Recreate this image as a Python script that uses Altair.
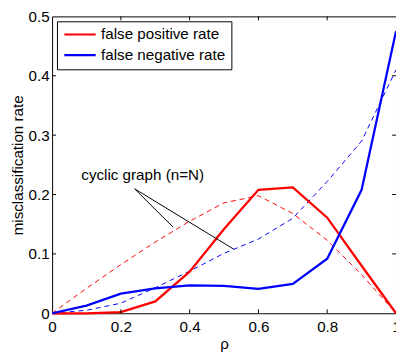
import altair as alt
import pandas as pd

# ---- data ----
rho = [0.0, 0.1, 0.2, 0.3, 0.4, 0.5, 0.6, 0.7, 0.8, 0.9, 1.0]
fp_rate = [0.0, 0.0, 0.002, 0.02, 0.07, 0.142, 0.208, 0.212, 0.161, 0.08, 0.0]
fn_rate = [0.0, 0.013, 0.033, 0.042, 0.047, 0.046, 0.041, 0.0495, 0.092, 0.208, 0.475]
fp_cyclic = [0.0, 0.042, 0.082, 0.12, 0.155, 0.186, 0.198, 0.168, 0.123, 0.065, 0.0]
fn_cyclic = [0.0, 0.005, 0.017, 0.043, 0.071, 0.101, 0.125, 0.16, 0.222, 0.29, 0.41]

series_names = ["false positive rate", "false negative rate"]
series_colors = ["#ff0000", "#0000ff"]

x_ticks = [0.0, 0.2, 0.4, 0.6, 0.8, 1.0]
y_ticks = [0.0, 0.1, 0.2, 0.3, 0.4, 0.5]
inner_x_ticks = [0.2, 0.4, 0.6, 0.8]
inner_y_ticks = [0.1, 0.2, 0.3, 0.4]

annot_text = ["cyclic graph (n=N)"]
annot_text_x = [0.085]
annot_text_y = [0.233]
annot_from_x = [0.24, 0.24]
annot_from_y = [0.2096, 0.2096]
annot_to_x = [0.352, 0.528]
annot_to_y = [0.145, 0.108]

FONT = "Liberation Sans"
FS = 15.5
W, H = 351, 303

solid_df = pd.DataFrame({
    "rho": rho * 2,
    "value": fp_rate + fn_rate,
    "series": [series_names[0]] * len(rho) + [series_names[1]] * len(rho),
})
dashed_df = pd.DataFrame({
    "rho": rho * 2,
    "value": fp_cyclic + fn_cyclic,
    "series": [series_names[0]] * len(rho) + [series_names[1]] * len(rho),
})

xscale = alt.Scale(domain=[0, 1], nice=False, zero=False)
yscale = alt.Scale(domain=[0, 0.5], nice=False)

xaxis = alt.Axis(values=x_ticks, format="~g", tickSize=0, domain=False, grid=False,
                 labelFont=FONT, labelFontSize=FS, labelColor="black", labelPadding=7,
                 labelFlush=False, labelOverlap=False,
                 title="ρ", titleFont=FONT, titleFontSize=FS, titleFontWeight="normal",
                 titleColor="black", titlePadding=1)
yaxis = alt.Axis(values=y_ticks, format="~g", tickSize=0, domain=False, grid=False,
                 labelFont=FONT, labelFontSize=FS, labelColor="black", labelPadding=3,
                 labelFlush=False, labelOverlap=False,
                 title="misclassification rate", titleFont=FONT, titleFontSize=FS,
                 titleFontWeight="normal", titleColor="black", titlePadding=3)

legend = alt.Legend(title=None, orient="none", legendX=5, legendY=5,
                    symbolType="stroke", symbolSize=1024, symbolStrokeWidth=2.2,
                    clipHeight=15, rowPadding=5, padding=6,
                    labelFont=FONT, labelFontSize=FS, labelColor="black", labelOffset=4,
                    strokeColor="black", fillColor="white")

solid = alt.Chart(solid_df).mark_line(strokeWidth=2.3).encode(
    x=alt.X("rho:Q", scale=xscale, axis=xaxis),
    y=alt.Y("value:Q", scale=yscale, axis=yaxis),
    color=alt.Color("series:N", scale=alt.Scale(domain=series_names, range=series_colors),
                    legend=legend, sort=series_names),
)

dashed = alt.Chart(dashed_df).mark_line(strokeWidth=1, strokeDash=[5, 4]).encode(
    x=alt.X("rho:Q", scale=xscale),
    y=alt.Y("value:Q", scale=yscale),
    color=alt.Color("series:N", scale=alt.Scale(domain=series_names, range=series_colors),
                    legend=None),
)

annot_lines = alt.Chart(pd.DataFrame({
    "x": annot_from_x, "y": annot_from_y, "x2": annot_to_x, "y2": annot_to_y,
})).mark_rule(color="black", strokeWidth=1).encode(
    x=alt.X("x:Q", scale=xscale), y=alt.Y("y:Q", scale=yscale), x2="x2:Q", y2="y2:Q",
)

annot_label = alt.Chart(pd.DataFrame({
    "x": annot_text_x, "y": annot_text_y, "t": annot_text,
})).mark_text(align="left", baseline="middle", font=FONT, fontSize=FS, color="black").encode(
    x=alt.X("x:Q", scale=xscale), y=alt.Y("y:Q", scale=yscale), text="t:N",
)

xt_df = pd.DataFrame({"x": inner_x_ticks})
yt_df = pd.DataFrame({"y": inner_y_ticks})
tick_style = dict(color="black", strokeWidth=1)
ticks_bottom = alt.Chart(xt_df).mark_rule(**tick_style).encode(
    x=alt.X("x:Q", scale=xscale), y=alt.value(H), y2=alt.value(H - 4))
ticks_top = alt.Chart(xt_df).mark_rule(**tick_style).encode(
    x=alt.X("x:Q", scale=xscale), y=alt.value(0), y2=alt.value(4))
ticks_left = alt.Chart(yt_df).mark_rule(**tick_style).encode(
    y=alt.Y("y:Q", scale=yscale), x=alt.value(0), x2=alt.value(4))
ticks_right = alt.Chart(yt_df).mark_rule(**tick_style).encode(
    y=alt.Y("y:Q", scale=yscale), x=alt.value(W), x2=alt.value(W - 4))

chart = alt.layer(
    dashed, solid, annot_lines, annot_label,
    ticks_bottom, ticks_top, ticks_left, ticks_right,
).resolve_scale(color="independent").properties(
    width=W, height=H,
    autosize=alt.AutoSizeParams(type="none"),
    padding={"left": 45, "top": 5, "right": 0, "bottom": 38},
    background="white",
).configure_view(stroke="black", strokeWidth=1)

chart.save("out.html", embed_options={"renderer": "svg", "actions": False})
